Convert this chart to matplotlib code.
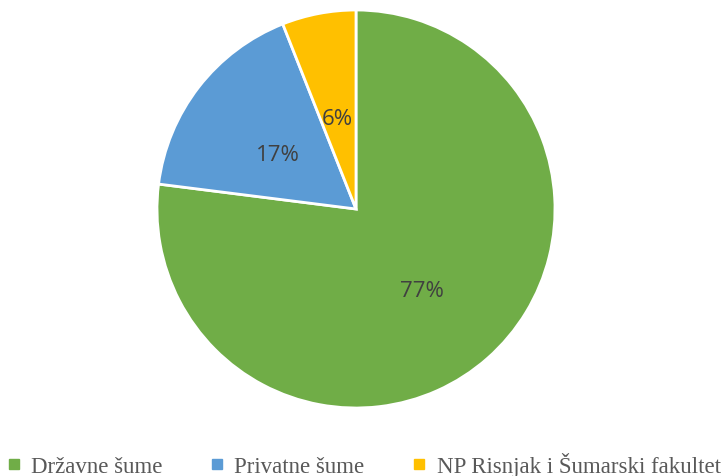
import matplotlib.pyplot as plt
from matplotlib.lines import Line2D

labels = ['Državne šume', 'Privatne šume', 'NP Risnjak i Šumarski fakultet']
shares = [77, 17, 6]
colors = ['#70AD47', '#5B9BD5', '#FFC000']

W, H = 725, 477
fig = plt.figure(figsize=(W / 100, H / 100), dpi=100)

# pie centre ~ (356, 210) px, radius ~199 px
cx, cy, r = 356, 210, 199
ax = fig.add_axes([(cx - r) / W, (H - cy - r) / H, 2 * r / W, 2 * r / H])
wedges, texts, autotexts = ax.pie(
    shares, colors=colors, startangle=90, counterclock=False,
    autopct='%1.0f%%', pctdistance=0.5,
    wedgeprops=dict(edgecolor='white', linewidth=2),
    textprops=dict(color='#404040', fontsize=16, family='Open Sans'))
# nudge labels down a little, like the original
for t in autotexts:
    x, y = t.get_position()
    t.set_position((x, y - 0.035))
ax.set_xlim(-1.0, 1.0)
ax.set_ylim(-1.0, 1.0)
ax.axis('off')

handles = [Line2D([], [], marker='s', linestyle='none', markersize=7,
                  markerfacecolor=c, markeredgecolor=c) for c in colors]
leg = fig.legend(handles, labels, loc='center', bbox_to_anchor=(0.5, (H - 466) / H),
                 ncol=3, frameon=False, handletextpad=0.35, columnspacing=2.0,
                 handlelength=0.8,
                 prop=dict(family='Liberation Serif', size=16.5))
for t in leg.get_texts():
    t.set_color('#595959')

fig.savefig('out.png', dpi=100)
